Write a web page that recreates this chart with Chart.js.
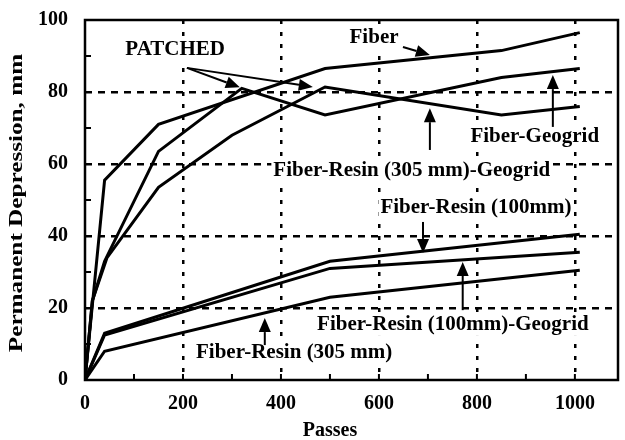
<!DOCTYPE html>
<html>
<head>
<meta charset="utf-8">
<script src="https://cdn.jsdelivr.net/npm/chart.js@4.4.0/dist/chart.umd.min.js"></script>
<style>
  html, body { margin: 0; padding: 0; background: #fff; }
</style>
</head>
<body>
<canvas id="chart" width="625" height="440"></canvas>
<script>
// Passes (x) and permanent depression in mm (y)
const fiberPasses = [0, 40, 150, 490, 850, 1010];
const fiberDepth = [0, 55.5, 71, 86.5, 91.5, 96.5];
const geogridPasses = [0, 15, 40, 150, 320, 490, 850, 1010];
const geogridDepth = [0, 22, 33, 63.5, 81, 73.6, 84, 86.5];
const resin305GeoPasses = [0, 15, 45, 150, 300, 490, 850, 1010];
const resin305GeoDepth = [0, 22, 34, 53.5, 68, 81.4, 73.6, 76];
const resin100Passes = [0, 40, 500, 1010];
const resin100Depth = [0, 13, 33, 40.5];
const resin100GeoPasses = [0, 40, 500, 1010];
const resin100GeoDepth = [0, 12.5, 31, 35.5];
const resin305Passes = [0, 40, 500, 1010];
const resin305Depth = [0, 8, 23, 30.5];

const xTicks = [0, 100, 200, 300, 400, 500, 600, 700, 800, 900, 1000];
const xTickLabels = [0, 200, 400, 600, 800, 1000];
const yTickLabels = [0, 20, 40, 60, 80, 100];
const xMax = 1088;

const FONT = 'Liberation Serif';

// labels and arrows, placed in data units
const notes = [
  { text: 'PATCHED', x: 184, y: 91.7 },
  { text: 'Fiber', x: 590, y: 95 },
  { text: 'Fiber-Geogrid', x: 918, y: 67.5 },
  { text: 'Fiber-Resin (305 mm)-Geogrid', x: 667, y: 58.3 },
  { text: 'Fiber-Resin (100mm)', x: 798, y: 47.8 },
  { text: 'Fiber-Resin (100mm)-Geogrid', x: 751, y: 15.3 },
  { text: 'Fiber-Resin (305 mm)', x: 427, y: 7.5 }
];
const arrows = [
  { from: [208, 86.7], to: [316, 81.3] },
  { from: [208, 86.7], to: [465, 81.4] },
  { from: [649, 92.5], to: [704, 90.3] },
  { from: [955, 70.3], to: [955, 84.7] },
  { from: [704, 63.9], to: [704, 75.5] },
  { from: [690, 43.9], to: [690, 35.3] },
  { from: [771, 19.4], to: [771, 32.8] },
  { from: [367, 9.7], to: [367, 17.2] }
];
const xTitle = 'Passes';
const yTitle = 'Permanent Depression, mm';

function pts(xs, ys) {
  return xs.map((x, i) => ({ x: x, y: ys[i] }));
}

function series(xs, ys) {
  return {
    data: pts(xs, ys),
    borderColor: '#000',
    borderWidth: 3,
    pointRadius: 0,
    fill: false,
    tension: 0
  };
}

const annotate = {
  id: 'annotate',
  afterDatasetsDraw(chart) {
    const ctx = chart.ctx;
    const xs = chart.scales.x, ys = chart.scales.y;
    ctx.save();
    ctx.font = 'bold 21px "' + FONT + '"';
    ctx.textAlign = 'center';
    ctx.textBaseline = 'middle';
    notes.forEach(n => {
      const px = xs.getPixelForValue(n.x), py = ys.getPixelForValue(n.y);
      const w = ctx.measureText(n.text).width;
      ctx.fillStyle = '#fff';
      ctx.fillRect(px - w / 2 - 2, py - 11, w + 4, 22);
      ctx.fillStyle = '#000';
      ctx.fillText(n.text, px, py);
    });
    ctx.strokeStyle = '#000';
    ctx.fillStyle = '#000';
    ctx.lineWidth = 2;
    arrows.forEach(a => {
      const x1 = xs.getPixelForValue(a.from[0]), y1 = ys.getPixelForValue(a.from[1]);
      const x2 = xs.getPixelForValue(a.to[0]), y2 = ys.getPixelForValue(a.to[1]);
      const ang = Math.atan2(y2 - y1, x2 - x1);
      const len = 14, half = 6;
      const bx = x2 - len * Math.cos(ang), by = y2 - len * Math.sin(ang);
      ctx.beginPath();
      ctx.moveTo(x1, y1);
      ctx.lineTo(bx, by);
      ctx.stroke();
      ctx.beginPath();
      ctx.moveTo(x2, y2);
      ctx.lineTo(bx + half * Math.sin(ang), by - half * Math.cos(ang));
      ctx.lineTo(bx - half * Math.sin(ang), by + half * Math.cos(ang));
      ctx.closePath();
      ctx.fill();
    });
    ctx.restore();
  },
  afterDraw(chart) {
    const ctx = chart.ctx;
    const a = chart.chartArea;
    const xs = chart.scales.x, ys = chart.scales.y;
    ctx.save();
    ctx.strokeStyle = '#000';
    ctx.lineWidth = 2.5;
    ctx.strokeRect(a.left, a.top, a.right - a.left, a.bottom - a.top);
    // small inward tick marks
    ctx.lineWidth = 2;
    ctx.beginPath();
    xs.ticks.forEach(t => {
      const px = xs.getPixelForValue(t.value);
      ctx.moveTo(px, a.bottom);
      ctx.lineTo(px, a.bottom - 6);
    });
    ys.ticks.forEach(t => {
      const py = ys.getPixelForValue(t.value);
      ctx.moveTo(a.left, py);
      ctx.lineTo(a.left + 6, py);
    });
    ctx.stroke();

    // axis titles (the scanned y title is stretched along its length)
    ctx.fillStyle = '#000';
    ctx.textAlign = 'center';
    ctx.textBaseline = 'middle';
    ctx.font = 'bold 20px "' + FONT + '"';
    ctx.fillText(xTitle, xs.getPixelForValue(500), 431);
    ctx.font = 'bold 18px "' + FONT + '"';
    ctx.translate(17, (a.top + a.bottom) / 2 + 3);
    ctx.rotate(-Math.PI / 2);
    ctx.scale(1.4, 1);
    ctx.fillText(yTitle, 0, 0);
    ctx.restore();
  }
};

const ctx = document.getElementById('chart').getContext('2d');
new Chart(ctx, {
  type: 'line',
  data: {
    datasets: [
      series(fiberPasses, fiberDepth),
      series(geogridPasses, geogridDepth),
      series(resin305GeoPasses, resin305GeoDepth),
      series(resin100Passes, resin100Depth),
      series(resin100GeoPasses, resin100GeoDepth),
      series(resin305Passes, resin305Depth)
    ]
  },
  options: {
    responsive: false,
    animation: false,
    layout: { padding: { top: 20, right: 7, left: 0, bottom: 0 } },
    plugins: {
      legend: { display: false },
      tooltip: { enabled: false }
    },
    scales: {
      x: {
        type: 'linear',
        min: 0,
        max: xMax,
        afterBuildTicks: s => { s.ticks = xTicks.map(v => ({ value: v })); },
        afterFit: s => { s.height = 60; },
        ticks: {
          autoSkip: false,
          maxRotation: 0,
          padding: 12,
          color: '#000',
          font: { family: FONT, size: 20, weight: 'bold' },
          callback: v => xTickLabels.includes(v) ? v : ''
        },
        grid: {
          drawTicks: false,
          lineWidth: 2.5,
          color: c => (c.tick && xTickLabels.includes(c.tick.value) && c.tick.value > 0) ? '#000' : 'rgba(0,0,0,0)'
        },
        border: { display: false, dash: [4, 8] }
      },
      y: {
        min: 0,
        max: 100,
        afterFit: s => { s.width = 85; s.paddingTop = 4; s.paddingBottom = 4; },
        ticks: {
          stepSize: 10,
          autoSkip: false,
          padding: 17,
          color: '#000',
          font: { family: FONT, size: 20, weight: 'bold' },
          callback: v => yTickLabels.includes(v) ? v : ''
        },
        grid: {
          drawTicks: false,
          lineWidth: 2.5,
          color: c => (c.tick && yTickLabels.includes(c.tick.value) && c.tick.value > 0 && c.tick.value < 100) ? '#000' : 'rgba(0,0,0,0)'
        },
        border: { display: false, dash: [7, 6] }
      }
    }
  },
  plugins: [annotate]
});
</script>
</body>
</html>
